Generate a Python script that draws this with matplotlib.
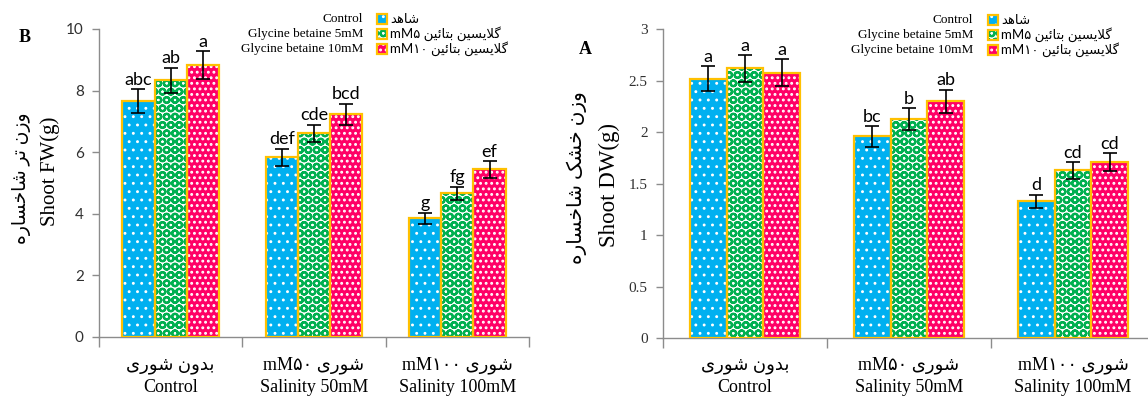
import matplotlib
matplotlib.use('Agg')
import matplotlib.pyplot as plt
from matplotlib.patches import Rectangle
from matplotlib.transforms import blended_transform_factory
import numpy as np

# ---- data ----
cat_en = ['Control', 'Salinity 50mM', 'Salinity 100mM']
treat_en = ['Control', 'Glycine betaine 5mM', 'Glycine betaine 10mM']

# shoot fresh weight (B)
fw_control = [7.66, 5.83, 3.85]
fw_gb5 = [8.33, 6.61, 4.66]
fw_gb10 = [8.83, 7.23, 5.44]
fw_err_control = [0.38, 0.28, 0.19]
fw_err_gb5 = [0.42, 0.28, 0.22]
fw_err_gb10 = [0.44, 0.35, 0.27]
fw_let_control = ['abc', 'def', 'g']
fw_let_gb5 = ['ab', 'cde', 'fg']
fw_let_gb10 = ['a', 'bcd', 'ef']
fw_ticks = [0, 2, 4, 6, 8, 10]

# shoot dry weight (A)
dw_control = [2.52, 1.96, 1.33]
dw_gb5 = [2.62, 2.13, 1.63]
dw_gb10 = [2.58, 2.30, 1.71]
dw_err_control = [0.12, 0.10, 0.065]
dw_err_gb5 = [0.13, 0.105, 0.08]
dw_err_gb10 = [0.13, 0.115, 0.085]
dw_let_control = ['a', 'bc', 'd']
dw_let_gb5 = ['a', 'b', 'cd']
dw_let_gb10 = ['a', 'ab', 'cd']
dw_ticks = [0, 0.5, 1, 1.5, 2, 2.5, 3]
dw_ticklabels = ['0', '0.5', '1', '1.5', '2', '2.5', '3']

# ---- simple persian shaping (matplotlib has no bidi / joining) ----
FORMS = {  # isolated, final, initial, medial
    '\u0627': ('\ufe8d', '\ufe8e', None, None),
    '\u0628': ('\ufe8f', '\ufe90', '\ufe91', '\ufe92'),
    '\u062a': ('\ufe95', '\ufe96', '\ufe97', '\ufe98'),
    '\u0626': ('\ufe89', '\ufe8a', '\ufe8b', '\ufe8c'),
    '\u062e': ('\ufea5', '\ufea6', '\ufea7', '\ufea8'),
    '\u062f': ('\ufea9', '\ufeaa', None, None),
    '\u0631': ('\ufead', '\ufeae', None, None),
    '\u0632': ('\ufeaf', '\ufeb0', None, None),
    '\u0633': ('\ufeb1', '\ufeb2', '\ufeb3', '\ufeb4'),
    '\u0634': ('\ufeb5', '\ufeb6', '\ufeb7', '\ufeb8'),
    '\u0644': ('\ufedd', '\ufede', '\ufedf', '\ufee0'),
    '\u0646': ('\ufee5', '\ufee6', '\ufee7', '\ufee8'),
    '\u0647': ('\ufee9', '\ufeea', '\ufeeb', '\ufeec'),
    '\u0648': ('\ufeed', '\ufeee', None, None),
    '\u06a9': ('\ufb8e', '\ufb8f', '\ufb90', '\ufb91'),
    '\u06af': ('\ufb92', '\ufb93', '\ufb94', '\ufb95'),
    '\u06cc': ('\ufbfc', '\ufbfd', '\ufbfe', '\ufbff'),
}


def fa(text):
    chars = list(text)
    out = []
    i = 0
    while i < len(chars):
        c = chars[i]
        if c not in FORMS:
            out.append(c)
            i += 1
            continue
        prev = chars[i - 1] if i > 0 else ''
        jp = prev in FORMS and FORMS[prev][2] is not None
        if c == '\u0644' and i + 1 < len(chars) and chars[i + 1] == '\u0627':
            out.append('\ufefc' if jp else '\ufefb')
            i += 2
            continue
        nxt = chars[i + 1] if i + 1 < len(chars) else ''
        jn = FORMS[c][2] is not None and nxt in FORMS
        out.append(FORMS[c][{(False, False): 0, (True, False): 1,
                              (False, True): 2, (True, True): 3}[(jp, jn)]])
        i += 1
    return ''.join(reversed(out))


cat_fa = [fa('بدون شوری'), 'mM۵۰ ' + fa('شوری'), 'mM۱۰۰ ' + fa('شوری')]
treat_fa = [fa('شاهد'), 'mM۵ ' + fa('گلایسین بتائین'), 'mM۱۰ ' + fa('گلایسین بتائین')]

faces = ['#00B0F0', 'white', '#FF0066']
hatch_col = ['white', '#00B050', 'white']
hatches = ['..', 'OO', '...']
hatch_lw = [0.9, 1.6, 1.3]
edge = '#FFC000'
grey = '#8c8c8c'
SERIF = ['Liberation Serif', 'DejaVu Sans']
SANS = ['Lato', 'DejaVu Sans']

fig = plt.figure(figsize=(11.48, 3.97), dpi=100)
W, H = 1148, 397


def fx(px):
    return px / W


def fy(py):
    return 1 - py / H


def pattern_bar(ax, x, h, k, w):
    with plt.rc_context({'hatch.linewidth': hatch_lw[k]}):
        bars = ax.bar(x, h, w, color=faces[k], edgecolor=hatch_col[k],
                      hatch=hatches[k], linewidth=0, zorder=2)
        for b in bars:
            if hasattr(b, 'set_hatch_linewidth'):
                b.set_hatch_linewidth(hatch_lw[k])
    ax.bar(x, h, w, facecolor='none', edgecolor=edge, linewidth=1.6, zorder=3)


def draw(ax, series, errs, letters, ticks, ticklabels, tickfont, ymax):
    x = np.arange(3)
    w = 0.225
    for k in range(3):
        xk = x + (k - 1) * w
        pattern_bar(ax, xk, series[k], k, w)
        ax.errorbar(xk, series[k], yerr=errs[k], fmt='none', ecolor='black',
                    elinewidth=1.2, capsize=5, capthick=1.2, zorder=4)
        for xi, v, e, t in zip(xk, series[k], errs[k], letters[k]):
            ax.annotate(t, (xi, v + e), xytext=(0, 1), textcoords='offset points',
                        ha='center', va='bottom', fontsize=13, family=SANS,
                        color='black')
    ax.set_xlim(-0.5, 2.5)
    ax.set_ylim(0, ymax)
    ax.set_xticks([-0.5, 0.5, 1.5, 2.5])
    ax.set_xticklabels([])
    ax.set_yticks(ticks)
    ax.set_yticklabels(ticklabels, family=tickfont, fontsize=11, color='#303030')
    for s in ['top', 'right']:
        ax.spines[s].set_visible(False)
    for s in ['left', 'bottom']:
        ax.spines[s].set_color(grey)
        ax.spines[s].set_linewidth(1.0)
    ax.tick_params(axis='x', direction='out', length=7, color=grey, width=1.0)
    ax.tick_params(axis='y', direction='out', length=5, color=grey, width=1.0, pad=6)
    tr = blended_transform_factory(ax.transData, fig.transFigure)
    for i in range(3):
        ax.text(i, fy(365), cat_fa[i], transform=tr, ha='center', va='center',
                fontsize=13, family=SERIF)
        ax.text(i, fy(388), cat_en[i], transform=tr, ha='center', va='center',
                fontsize=13, family=SERIF)


# left panel (B)
axB = fig.add_axes([fx(99), fy(337), fx(430), (337 - 29) / H])
draw(axB, [fw_control, fw_gb5, fw_gb10],
     [fw_err_control, fw_err_gb5, fw_err_gb10],
     [fw_let_control, fw_let_gb5, fw_let_gb10],
     fw_ticks, [str(t) for t in fw_ticks], SANS, 10)

# right panel (A), runs past the right edge like the original
axA = fig.add_axes([fx(663), fy(338.3), fx(492), (338.3 - 29.3) / H])
draw(axA, [dw_control, dw_gb5, dw_gb10],
     [dw_err_control, dw_err_gb5, dw_err_gb10],
     [dw_let_control, dw_let_gb5, dw_let_gb10],
     dw_ticks, dw_ticklabels, SERIF, 3)

# panel letters
fig.text(fx(25), fy(38), 'B', fontsize=13, fontweight='bold', family=SERIF,
         ha='center', va='center')
fig.text(fx(585), fy(49), 'A', fontsize=13, fontweight='bold', family=SERIF,
         ha='center', va='center')

# y labels
fig.text(fx(22), fy(178), fa('وزن تر شاخساره'), rotation=90, fontsize=13.5,
         family=SERIF, ha='center', va='center')
fig.text(fx(50), fy(171), 'Shoot FW(g)', rotation=90, fontsize=15,
         family=SERIF, ha='center', va='center')
fig.text(fx(577), fy(178), fa('وزن خشک شاخساره'), rotation=90, fontsize=14.5,
         family=SERIF, ha='center', va='center')
fig.text(fx(609), fy(185), 'Shoot DW(g)', rotation=90, fontsize=16.5,
         family=SERIF, ha='center', va='center')


# legends
def legend(x_text, x_box, rows):
    for k in range(3):
        y = rows[k]
        fig.text(fx(x_text), fy(y), treat_en[k], ha='right', va='center',
                 fontsize=9.5, family=SERIF)
        with plt.rc_context({'hatch.linewidth': hatch_lw[k]}):
            r = Rectangle((fx(x_box), fy(y + 5)), fx(10), 10 / H,
                          transform=fig.transFigure, facecolor=faces[k],
                          edgecolor=hatch_col[k], hatch=hatches[k], linewidth=0)
        fig.add_artist(r)
        fig.add_artist(Rectangle((fx(x_box), fy(y + 5)), fx(10), 10 / H,
                                 transform=fig.transFigure, facecolor='none',
                                 edgecolor=edge, linewidth=1.6))
        fig.text(fx(x_box + 13), fy(y), treat_fa[k], ha='left', va='center',
                 fontsize=9.5, family=SANS)


legend(363, 377, [19, 34, 49])
legend(973, 988, [20, 35, 50])

fig.savefig('out.png', dpi=100)
